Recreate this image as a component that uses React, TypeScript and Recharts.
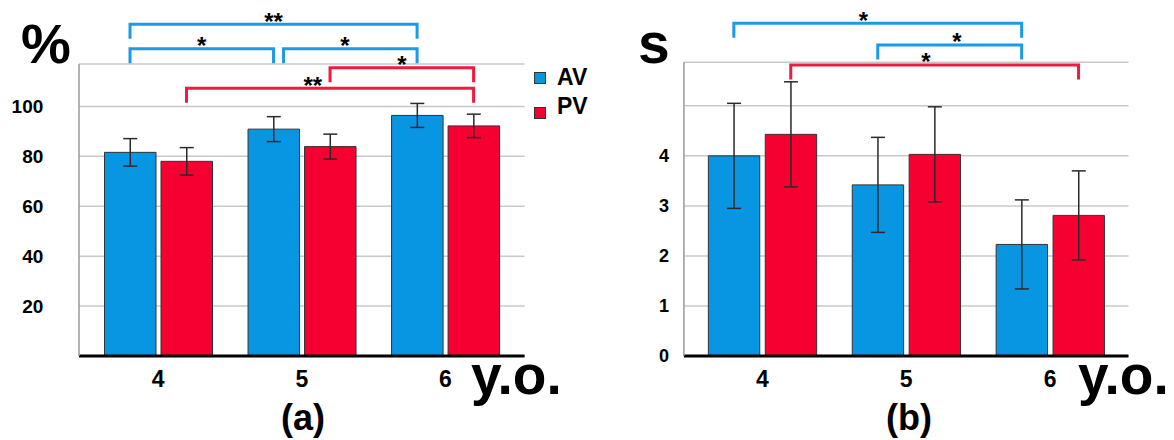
import React from "react";
import {
  BarChart,
  Bar,
  XAxis,
  YAxis,
  CartesianGrid,
  ErrorBar,
} from "recharts";

const ages = ["4", "5", "6"];

const avPct = [81.6, 90.9, 96.4];
const avPctErr = [5.5, 5.0, 4.8];
const pvPct = [78.0, 83.9, 92.2];
const pvPctErr = [5.5, 5.0, 4.7];

const avSec = [4.0, 3.42, 2.23];
const avSecErr = [1.05, 0.95, 0.89];
const pvSec = [4.43, 4.03, 2.81];
const pvSecErr = [1.05, 0.95, 0.89];

const pctTicks = [0, 20, 40, 60, 80, 100];
const secTicks = [0, 1, 2, 3, 4, 5];

// significance brackets: series 0 = AV, 1 = PV; row picks the level
const pctBrackets = [
  { s: 0, from: 0, to: 2, row: 0, label: "**", at: 0.5 },
  { s: 0, from: 0, to: 1, row: 1, label: "*", at: 0.5 },
  { s: 0, from: 1, to: 2, row: 1, label: "*", at: 0.46, shift: 10 },
  { s: 1, from: 1, to: 2, row: 2, label: "*", at: 0.5 },
  { s: 1, from: 0, to: 2, row: 3, label: "**", at: 0.44 },
];
const secBrackets = [
  { s: 0, from: 0, to: 2, row: 0, label: "*", at: 0.45 },
  { s: 0, from: 1, to: 2, row: 1, label: "*", at: 0.55 },
  { s: 1, from: 0, to: 2, row: 2, label: "*", at: 0.47 },
];

const BLUE = "#0896e3";
const RED = "#f50030";
const BLUE_LINE = "#1c9ae6";
const RED_LINE = "#f0193f";
const FONT = "'Liberation Sans', Arial, sans-serif";

const pctData = ages.map((a, i) => ({
  age: a,
  av: avPct[i],
  avErr: avPctErr[i],
  pv: pvPct[i],
  pvErr: pvPctErr[i],
}));
const secData = ages.map((a, i) => ({
  age: a,
  av: avSec[i],
  avErr: avSecErr[i],
  pv: pvSec[i],
  pvErr: pvSecErr[i],
}));

type Panel = {
  left: number;
  width: number;
  yAxisWidth: number;
  top: number;
  right: number;
  pad: number;
  barSize: number;
  barGap: number;
  max: number;
  tickMargin: number;
  tickFont: number;
  rows: number[];
};

const panelA: Panel = {
  left: 0,
  width: 540,
  yAxisWidth: 79,
  top: 64,
  right: 15.4,
  pad: 7.5,
  barSize: 51.5,
  barGap: 5,
  max: 117,
  tickMargin: 35.7,
  tickFont: 19,
  rows: [24.3, 48.7, 67.7, 88.3],
};

const panelB: Panel = {
  left: 590,
  width: 584,
  yAxisWidth: 93.9,
  top: 62.3,
  right: 45.5,
  pad: 6.45,
  barSize: 51.4,
  barGap: 5.5,
  max: 5.87,
  tickMargin: 15,
  tickFont: 18,
  rows: [23.3, 45, 65],
};

const BOTTOM = 356;

function barCenter(p: Panel, cat: number, s: number) {
  const plotLeft = p.left + p.yAxisWidth;
  const plotRight = p.left + p.width - p.right;
  const band = (plotRight - plotLeft - 2 * p.pad) / ages.length;
  const half = (p.barSize + p.barGap) / 2;
  return plotLeft + p.pad + band * (cat + 0.5) + (s === 0 ? -half : half);
}

function PanelChart({
  p,
  data,
  ticks,
  hide,
}: {
  p: Panel;
  data: any[];
  ticks: number[];
  hide: number;
}) {
  return (
    <div style={{ position: "absolute", left: p.left, top: 0 }}>
      <BarChart
        width={p.width}
        height={440}
        data={data}
        margin={{ top: p.top, right: p.right, left: 0, bottom: 440 - BOTTOM - 30 }}
        barSize={p.barSize}
        barGap={p.barGap}
      >
        <CartesianGrid vertical={false} stroke="#c8c8c8" strokeWidth={1.5} />
        <XAxis
          dataKey="age"
          height={30}
          padding={{ left: p.pad, right: p.pad }}
          tickLine={false}
          tickSize={0}
          tickMargin={15}
          axisLine={{ stroke: "#000", strokeWidth: 3 }}
          tick={{ fontSize: 23, fontWeight: 700, fill: "#000", fontFamily: FONT }}
        />
        <YAxis
          width={p.yAxisWidth}
          domain={[0, p.max]}
          ticks={ticks}
          interval={0}
          tickLine={false}
          tickSize={0}
          tickMargin={p.tickMargin}
          axisLine={{ stroke: "#9a9a9a", strokeWidth: 1.5 }}
          tickFormatter={(v: number) => (v === hide ? "" : String(v))}
          tick={{ fontSize: p.tickFont, fontWeight: 700, fill: "#000", fontFamily: FONT }}
        />
        <Bar dataKey="av" fill={BLUE} stroke="#333" strokeWidth={1} isAnimationActive={false}>
          <ErrorBar dataKey="avErr" width={7} stroke="#2a2a2a" strokeWidth={1.5} isAnimationActive={false} />
        </Bar>
        <Bar dataKey="pv" fill={RED} stroke="#333" strokeWidth={1} isAnimationActive={false}>
          <ErrorBar dataKey="pvErr" width={7} stroke="#2a2a2a" strokeWidth={1.5} isAnimationActive={false} />
        </Bar>
      </BarChart>
    </div>
  );
}

function Brackets({ p, list }: { p: Panel; list: typeof pctBrackets }) {
  return (
    <>
      {list.map((b, i) => {
        const x1 = barCenter(p, b.from, b.s) + ((b as any).shift || 0);
        const x2 = barCenter(p, b.to, b.s);
        const y = p.rows[b.row];
        const drop = y + 14.5;
        const color = b.s === 0 ? BLUE_LINE : RED_LINE;
        const lx = x1 + (x2 - x1) * b.at;
        return (
          <g key={i}>
            <path
              d={`M${x1},${drop} L${x1},${y} L${x2},${y} L${x2},${drop}`}
              fill="none"
              stroke={color}
              strokeWidth={3}
            />
            <text
              x={lx}
              y={y - 8.5 + 13.8}
              textAnchor="middle"
              fontSize={24}
              fontWeight={700}
              fontFamily={FONT}
              fill="#000"
            >
              {b.label}
            </text>
          </g>
        );
      })}
    </>
  );
}

const txt = { fontWeight: 700, fontFamily: FONT, fill: "#000" } as const;

export default function App() {
  return (
    <div
      style={{
        position: "absolute",
        left: 0,
        top: 0,
        width: 1174,
        height: 440,
        background: "#fff",
        overflow: "hidden",
      }}
    >
      <PanelChart p={panelA} data={pctData} ticks={pctTicks} hide={0} />
      <PanelChart p={panelB} data={secData} ticks={secTicks} hide={5} />
      <svg
        width={1174}
        height={440}
        style={{ position: "absolute", left: 0, top: 0, pointerEvents: "none" }}
      >
        <Brackets p={panelA} list={pctBrackets} />
        <Brackets p={panelB} list={secBrackets} />

        <text x={21} y={63} fontSize={56} {...txt}>%</text>
        <text x={638} y={62.5} fontSize={57} {...txt}>s</text>

        <text x={471} y={394} fontSize={55} {...txt}>y.o.</text>
        <text x={1078} y={394} fontSize={55} {...txt}>y.o.</text>

        <text x={303} y={430} fontSize={36} textAnchor="middle" {...txt}>(a)</text>
        <text x={909} y={430} fontSize={36} textAnchor="middle" {...txt}>(b)</text>

        <rect x={534.5} y={72.5} width={11} height={11} fill={BLUE} stroke="#333" strokeWidth={1} />
        <rect x={534.5} y={107.5} width={11} height={11} fill={RED} stroke="#333" strokeWidth={1} />
        <text x={557} y={85} fontSize={23} {...txt}>AV</text>
        <text x={557} y={114} fontSize={23} {...txt}>PV</text>
      </svg>
    </div>
  );
}
